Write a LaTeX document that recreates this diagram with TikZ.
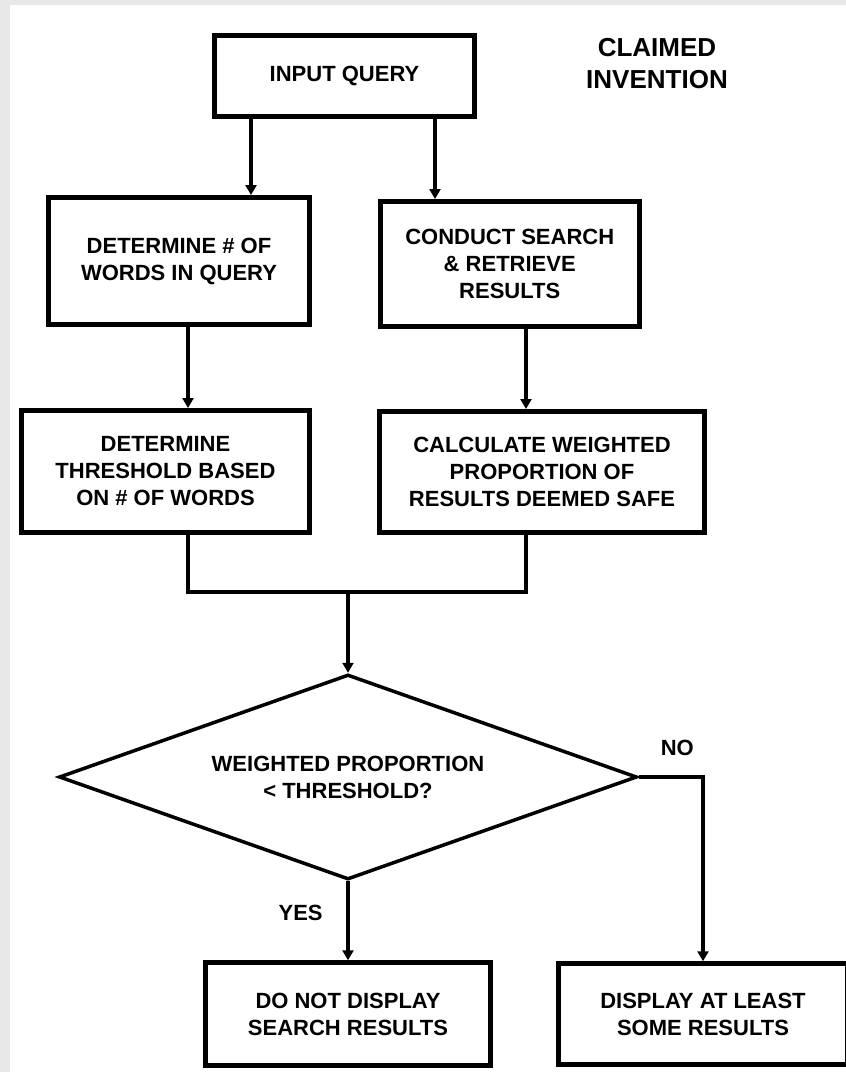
\documentclass[tikz,border=0pt]{standalone}
\usepackage{fontspec}
\setmainfont{Liberation Sans}
\usetikzlibrary{positioning,shapes.geometric,arrows.meta}
\definecolor{framegray}{HTML}{E8E8E8}

\begin{document}
\begin{tikzpicture}[x=1pt, y=-1pt, >={Triangle[width=11pt,length=10pt]},
    block/.style={draw, rectangle, line width=5pt, align=center, font=\fontsize{22}{27}\selectfont\bfseries},
    decision/.style={draw, diamond, shape aspect=2.82, line width=3.5pt, align=center, inner sep=0pt, font=\fontsize{22}{27}\selectfont\bfseries},
    flow/.style={line width=4pt},
    flowtext/.style={font=\fontsize{22}{27}\selectfont\bfseries}]
    \useasboundingbox (0,0) rectangle (846,1072);
    % Frame
    \fill[framegray] (0,0) rectangle (846,1072);
    \fill[white] (10,5) rectangle (846,1072);

    % Nodes
    \node (input) [block, minimum width=260pt, minimum height=81pt] at (344.5,76) {INPUT QUERY};
    \node (words) [block, below=76pt of input, xshift=-165.5pt, minimum width=261pt, minimum height=127pt] {DETERMINE \# OF\\WORDS IN QUERY};
    \node (search) [block, below=80pt of input, xshift=165.25pt, minimum width=259.5pt, minimum height=125pt] {CONDUCT SEARCH\\\& RETRIEVE\\RESULTS};
    \node (threshold) [block, below=81pt of words, xshift=-13.5pt, minimum width=288pt, minimum height=122pt] {DETERMINE\\THRESHOLD BASED\\ON \# OF WORDS};
    \node (weighted) [block, below=80pt of search, xshift=32.25pt, minimum width=325pt, minimum height=121pt] {CALCULATE WEIGHTED\\PROPORTION OF\\RESULTS DEEMED SAFE};
    \node (check) [decision, minimum width=578pt, minimum height=205pt] at (348,777) {WEIGHTED PROPORTION\\< THRESHOLD?};
    \node (hide) [block, below=79pt of check, minimum width=285pt, minimum height=103pt] {DO NOT DISPLAY\\SEARCH RESULTS};
    \node (show) [block, right=63pt of hide, minimum width=289pt, minimum height=101pt] {DISPLAY AT LEAST\\SOME RESULTS};
    \node (title) [font=\fontsize{26}{32}\selectfont\bfseries, align=center] at (657,64) {CLAIMED\\INVENTION};
    \coordinate (merge) at (348,592);

    % Arrows
    \draw[flow, ->] ([xshift=-93.5pt]input.south) -- ([xshift=-93.5pt]input.south |- words.north);
    \draw[flow, ->] ([xshift=90.5pt]input.south) -- ([xshift=90.5pt]input.south |- search.north);
    \draw[flow, ->] ([xshift=9pt]words.south) -- ([xshift=9pt]words.south |- threshold.north);
    \draw[flow, ->] ([xshift=16.25pt]search.south) -- ([xshift=16.25pt]search.south |- weighted.north);
    \draw[flow] ([xshift=22.5pt]threshold.south) |- (merge) -| ([xshift=-16pt]weighted.south);
    \draw[flow, ->] (merge) -- (check.north);
    \draw[flow, ->] (check.south) -- node[flowtext, pos=0.4, left=20pt] {YES} (hide.north);
    \draw[flow, ->] (check.east) -| node[flowtext, pos=0.3, above=16pt] {NO} (show.north);
\end{tikzpicture}
\end{document}
